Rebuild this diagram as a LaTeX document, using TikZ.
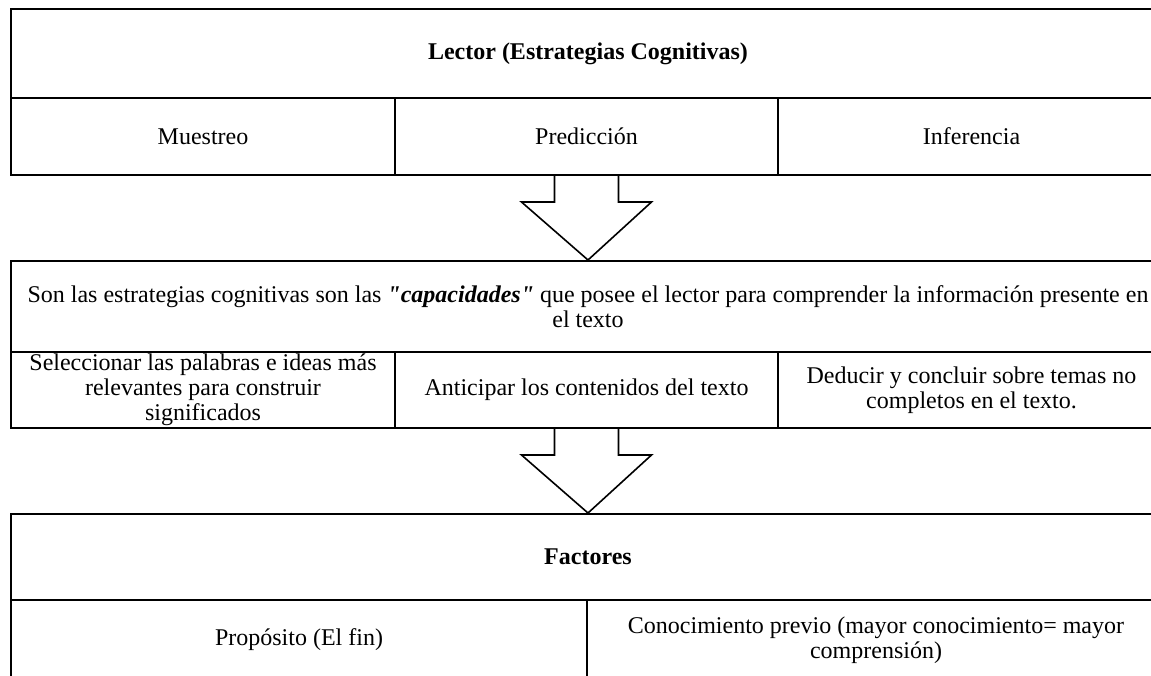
\documentclass[tikz,border=0pt]{standalone}
\usepackage{fontspec}
\setmainfont{Liberation Serif}[Ligatures=TeXOff]
\usetikzlibrary{calc}

\begin{document}
\begin{tikzpicture}[x=0.5pt,y=-0.5pt,
    cell/.style={draw,black,line width=1pt,align=center,inner sep=0pt,
      font=\fontsize{12}{12.5}\selectfont},
    blockarrow/.style={draw,black,line width=0.8pt,line join=miter}]
  \useasboundingbox (0,0) rectangle (1151,675);
  \clip (0,0) rectangle (1151,675);
  \node[cell,minimum width=577pt,minimum height=44.5pt] (lector) at (588,53.5) {\textbf{Lector (Estrategias Cognitivas)}};
  \node[cell,minimum width=192pt,minimum height=38.5pt] (muestreo) at (203,136.5) {Muestreo};
  \node[cell,minimum width=191.5pt,minimum height=38.5pt] (prediccion) at (586.5,136.5) {Predicción};
  \node[cell,minimum width=193.5pt,minimum height=38.5pt] (inferencia) at (971.5,136.5) {Inferencia};

  \node[cell,minimum width=577pt,minimum height=45.5pt] (son) at (588,306.5) {Son las estrategias cognitivas son las \textbf{\textit{"capacidades"}} que posee el lector para comprender la información presente en\\ el texto};
  \node[cell,minimum width=192pt,minimum height=38pt] (seleccionar) at (203,390) {Seleccionar las palabras e ideas más\\ relevantes para construir\\ significados};
  \node[cell,minimum width=191.5pt,minimum height=38pt] (anticipar) at (586.5,390) {Anticipar los contenidos del texto};
  \node[cell,minimum width=193.5pt,minimum height=38pt] (deducir) at (971.5,390) {Deducir y concluir sobre temas no\\ completos en el texto.};

  \node[cell,minimum width=577pt,minimum height=43pt] (factores) at (588,557) {\textbf{Factores}};
  \node[cell,minimum width=288pt,minimum height=40pt] (proposito) at (299,640) {Propósito (El fin)};
  \node[cell,minimum width=289pt,minimum height=40pt] (conocimiento) at (876,640) {Conocimiento previo (mayor conocimiento= mayor\\ comprensión)};

  \draw[blockarrow] ($(prediccion.south)+(-32,0)$) -- ++(0,26) -- ++(-33,0) -- (son.north)
    -- ($(prediccion.south)+(65,26)$) -- ++(-33,0) -- ++(0,-26);
  \draw[blockarrow] ($(anticipar.south)+(-32,0)$) -- ++(0,26) -- ++(-33,0) -- (factores.north)
    -- ($(anticipar.south)+(65,26)$) -- ++(-33,0) -- ++(0,-26);
\end{tikzpicture}
\end{document}
